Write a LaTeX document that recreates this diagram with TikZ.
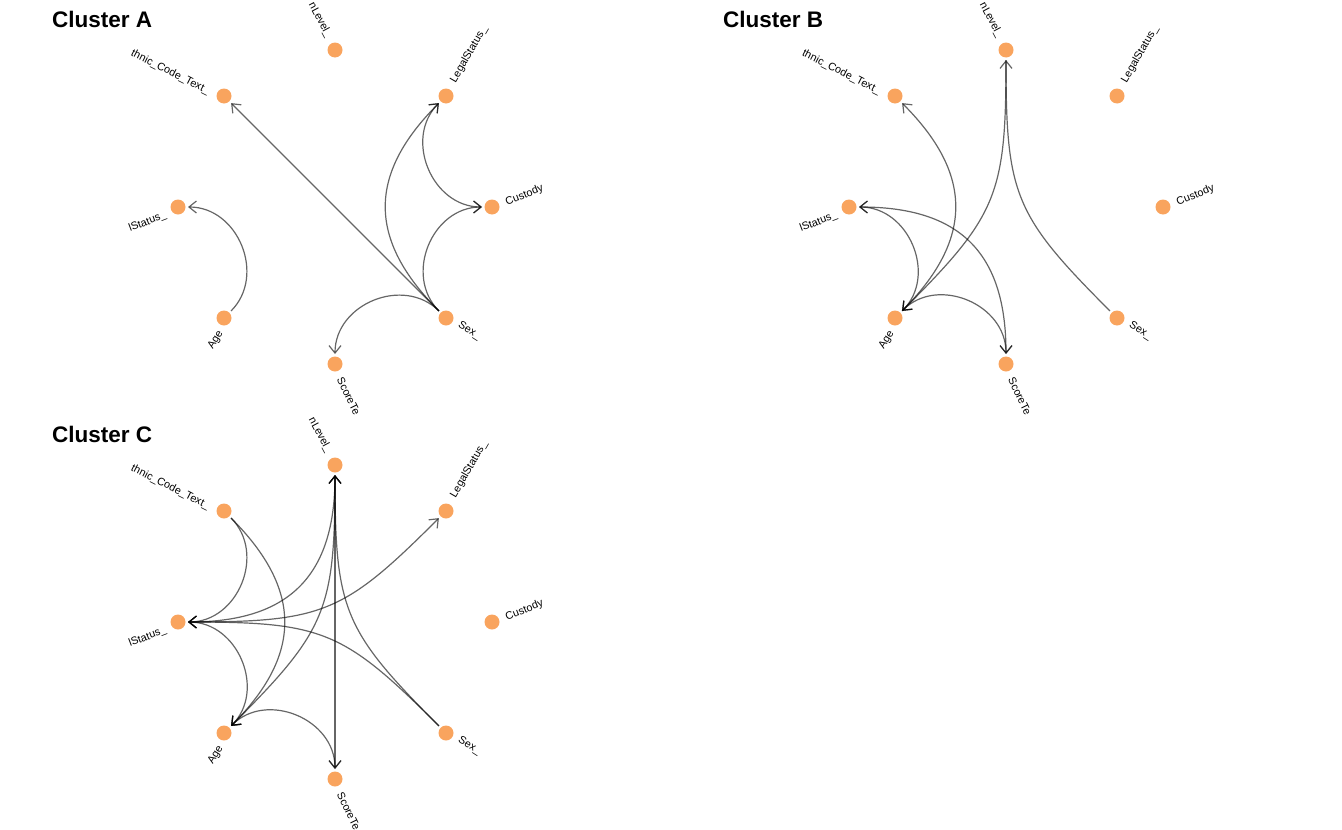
\documentclass[tikz,border=0pt]{standalone}
\usepackage{fontspec}
\setmainfont{Liberation Sans}
\usetikzlibrary{arrows.meta,calc}
\definecolor{dotc}{HTML}{F9A45E}
\tikzset{
  dotn/.style={circle, fill=dotc, draw=none, minimum size=15pt, inner sep=0pt, outer sep=2.5pt},
  lbl/.style={font=\fontsize{10.8}{12}\selectfont, inner sep=0pt},
  ttl/.style={font=\bfseries\fontsize{22.5}{26}\selectfont, anchor=base west, inner sep=0pt},
  edgeline/.style={draw=black, draw opacity=0.6, line width=1.2pt},
}
% #1 prefix, #2 dx, #3 dy, #4 title
\newcommand\mkcluster[4]{%
  \begin{scope}[shift={(#2,#3)}]
    \coordinate (#1O) at (335,207);
    \node[ttl] (#1title) at (52,27) {#4};
    \node[dotn] (#1N) at (335,50) {};
    \node[dotn] (#1G) at (446,96) {};
    \node[dotn] (#1C) at (492,207) {};
    \node[dotn] (#1S) at (446,318) {};
    \node[dotn] (#1T) at (335,364) {};
    \node[dotn] (#1A) at (224,318) {};
    \node[dotn] (#1M) at (178,207) {};
    \node[dotn] (#1E) at (224,96) {};
    \node[lbl, anchor=east, rotate=-62] (#1NL) at ($(#1N)+(-6,-13)$) {nLevel\_};
    \node[lbl, anchor=west, rotate=60] (#1GL) at ($(#1G)+(7,-14)$) {LegalStatus\_};
    \node[lbl, anchor=west, rotate=22] (#1CL) at ($(#1C)+(14,-4)$) {Custody};
    \node[lbl, anchor=west, rotate=-33] (#1SL) at ($(#1S)+(13,6)$) {Sex\_};
    \node[lbl, anchor=west, rotate=-64] (#1TL) at ($(#1T)+(5,14)$) {ScoreTe};
    \node[lbl, anchor=east, rotate=58] (#1AL) at ($(#1A)+(-3,14)$) {Age};
    \node[lbl, anchor=east, rotate=21] (#1ML) at ($(#1M)+(-12,8)$) {lStatus\_};
    \node[lbl, anchor=east, rotate=-27] (#1EL) at ($(#1E)+(-15,-4)$) {thnic\_Code\_Text\_};
  \end{scope}%
}
% #1 arrow opts, #2 prefix, #3 from, #4 to, #5 factor = sin(angle/2)
\newcommand\arced[5][->]{%
  \draw[edgeline,#1] (#2#3) .. controls ($(#2#3)!#5!(#2O)$) and ($(#2#4)!#5!(#2O)$) .. (#2#4);
}
\begin{document}
\begin{tikzpicture}[x=1pt, y=-1pt, >={Straight Barb[length=7.5pt,width=12pt]}]
  \useasboundingbox (0,0) rectangle (1342,830);
  \mkcluster{pa}{0}{0}{Cluster A}
  \mkcluster{pb}{671}{0}{Cluster B}
  \mkcluster{pc}{0}{415}{Cluster C}
  % Cluster A
  \draw[edgeline,->] (paS) -- (paE);
  \arced{pa}{S}{G}{0.7071}
  \arced[<->]{pa}{G}{C}{0.3827}
  \arced{pa}{S}{C}{0.3827}
  \arced{pa}{S}{T}{0.3827}
  \arced{pa}{A}{M}{0.3827}
  % Cluster B
  \arced{pb}{A}{E}{0.7071}
  \arced{pb}{S}{N}{0.9239}
  \arced{pb}{N}{A}{0.9239}
  \arced[<->]{pb}{M}{A}{0.3827}
  \arced[<->]{pb}{M}{T}{0.7071}
  \arced[<->]{pb}{A}{T}{0.3827}
  % Cluster C
  \arced{pc}{E}{M}{0.3827}
  \arced{pc}{E}{A}{0.7071}
  \arced[<->]{pc}{M}{N}{0.7071}
  \arced{pc}{M}{G}{0.9239}
  \arced{pc}{S}{M}{0.9239}
  \arced{pc}{S}{N}{0.9239}
  \draw[edgeline,<->] (pcN) -- (pcT);
  \arced[<->]{pc}{N}{A}{0.9239}
  \arced[<->]{pc}{M}{A}{0.3827}
  \arced[<->]{pc}{A}{T}{0.3827}
\end{tikzpicture}
\end{document}
